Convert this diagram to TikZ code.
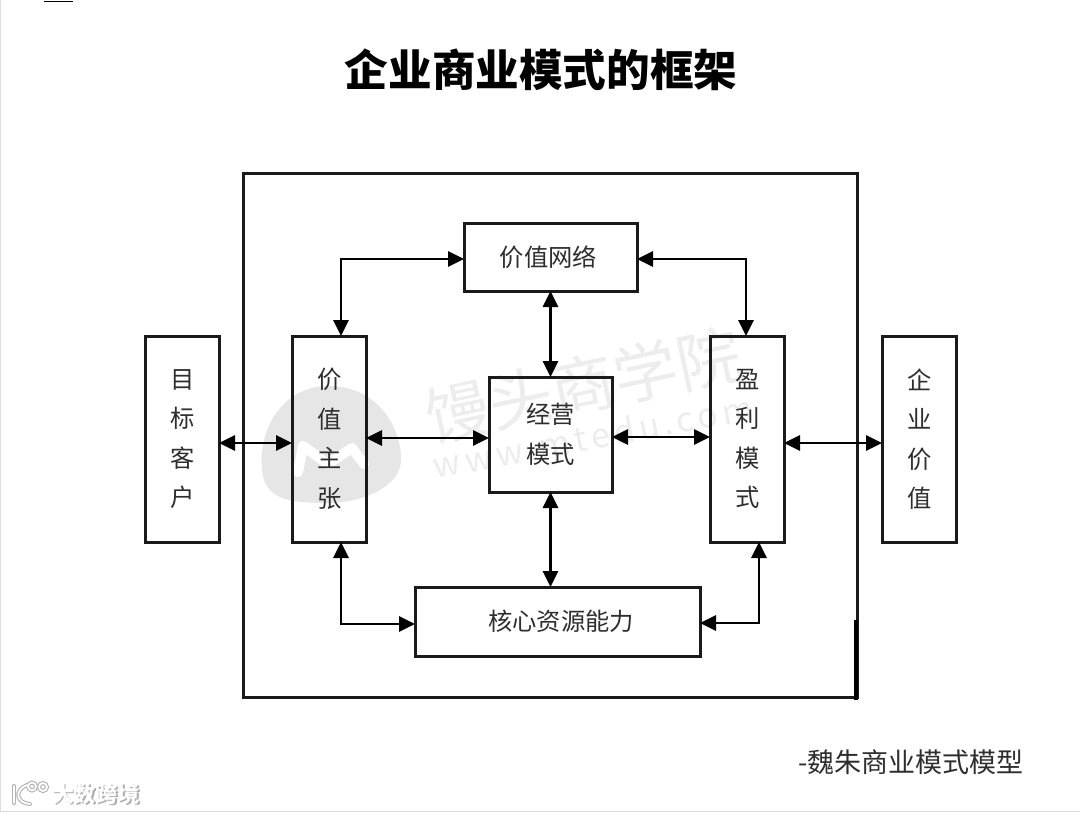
\documentclass[tikz,border=0pt]{standalone}
\usepackage{fontspec}
\setmainfont{Noto Sans CJK SC}
\usetikzlibrary{arrows.meta}
\definecolor{ink}{HTML}{1A1A1A}
\definecolor{inktext}{HTML}{2E2E2E}
\definecolor{wm}{HTML}{E6E6E6}
\definecolor{wmtext}{HTML}{EDEDED}
\tikzset{
  x=1pt,y=-1pt,
  box/.style={draw=ink,line width=3pt,fill=none,inner sep=0pt,outer sep=0pt,align=center,text=inktext,font=\fontsize{24.3}{36}\selectfont},
  vbox/.style={box,minimum width=74pt,minimum height=206pt,font=\fontsize{24.3}{39.5}\selectfont},
  link/.style={draw=black,line width=2.7pt,{Triangle[length=16pt,width=15pt]}-{Triangle[length=16pt,width=15pt]}},
}
\begin{document}
\begin{tikzpicture}
\useasboundingbox (0,0) rectangle (1080,814);
\fill[white] (0,0) rectangle (1080,814);
\draw[gray!30,line width=1pt] (0,811) -- (1080,811);
\draw[gray!25,line width=.8pt] (0.5,0) -- (0.5,811);
\draw[black,line width=1pt] (44,1) -- (73,1);
% watermark
\fill[wm] (262,470) .. controls (258,425) and (285,388) .. (325,386) .. controls (375,384) and (402,425) .. (401,462) .. controls (398,490) and (355,505) .. (320,503) .. controls (290,502) and (265,500) .. (262,470) -- cycle;
\draw[white,line width=10pt,line cap=round,line join=round] (298,472) -- (303,446) -- (328,464) -- (352,448) -- (364,464);
\node[rotate=12,text=wmtext,font=\fontsize{64}{64}\selectfont] (wmname) at (583,385) {馒头商学院};
\node[rotate=10.6,text=wmtext,font=\fontsize{34}{34}\selectfont\addfontfeature{LetterSpace=13}] (wmurl) at (593,436) {www.mtedu.com};
% outer frame
\node[draw=ink,line width=3pt,outer sep=0pt,minimum width=614pt,minimum height=524pt,inner sep=0pt] (frame) at (550,435) {};
\draw[black,line width=4pt] (855.5,620) -- (855.5,700);
% title
\node[font=\bfseries\fontsize{43.6}{44}\selectfont,text=black] (title) at (541,70) {企业商业模式的框架};
% boxes
\node[vbox] (kh) at (182,439) {\hspace{2pt}目\\\hspace{2pt}标\\\hspace{2pt}客\\\hspace{2pt}户};
\node[vbox] (zz) at (329,439) {\hspace{2pt}价\\\hspace{2pt}值\\\hspace{2pt}主\\\hspace{2pt}张};
\node[vbox] (yl) at (747,439) {\hspace{2pt}盈\\\hspace{2pt}利\\\hspace{2pt}模\\\hspace{2pt}式};
\node[vbox] (qy) at (919,439) {\hspace{2pt}企\\\hspace{2pt}业\\\hspace{2pt}价\\\hspace{2pt}值};
\node[box,minimum width=173pt,minimum height=68pt] (wl) at (550.5,257) {价值网络\hspace{4pt}};
\node[box,minimum width=123pt,minimum height=115pt,font=\fontsize{24.3}{40}\selectfont] (jy) at (550.5,434.5) {经营\\模式};
\node[box,minimum width=285pt,minimum height=69pt] (hx) at (557.5,621.5) {\hspace{7pt}核心资源能力};
% bend points
\coordinate (c1) at (341,259);
\coordinate (c2) at (746,259);
\coordinate (c3) at (341,624);
\coordinate (c4) at (759,623);
\coordinate (r1) at (0,443);
\coordinate (r2) at (0,438);
\coordinate (r3) at (0,437);
% connectors
\draw[link] (kh.east |- r1) -- (zz.west |- r1);
\draw[link] (zz.east |- r2) -- (jy.west |- r2);
\draw[link] (jy.east |- r3) -- (yl.west |- r3);
\draw[link] (yl.east |- r1) -- (qy.west |- r1);
\draw[link] (wl) -- (jy);
\draw[link] (jy) -- (jy |- hx.north);
\draw[link] (zz.north -| c1) -- (c1) -- (wl.west |- c1);
\draw[link] (wl.east |- c2) -- (c2) -- (yl.north -| c2);
\draw[link] (zz.south -| c3) -- (c3) -- (hx.west |- c3);
\draw[link] (yl.south -| c4) -- (c4) -- (hx.east |- c4);
% caption
\node[anchor=east,text=inktext,font=\fontsize{27}{28}\selectfont] (cap) at (1027,762) {-魏朱商业模式模型};
% corner mark
\foreach \w/\c in {4/gray!60,1.8/white}{
  \draw[\c,line width=\w pt,line cap=round] (14,786) -- (14,803);
  \draw[\c,line width=\w pt,line cap=round] (27,785) .. controls (14,790) and (16,803) .. (30,804);
  \draw[\c,line width=\w pt] (32,786.5) circle (4);
  \draw[\c,line width=\w pt] (43,787) circle (4);
}
\node[text=gray!65,font=\bfseries\fontsize{22}{22}\selectfont] (brandshadow) at (97,795.5) {大数跨境};
\node[text=white,font=\bfseries\fontsize{22}{22}\selectfont] (brand) at (96,794.5) {大数跨境};
\end{tikzpicture}
\end{document}
